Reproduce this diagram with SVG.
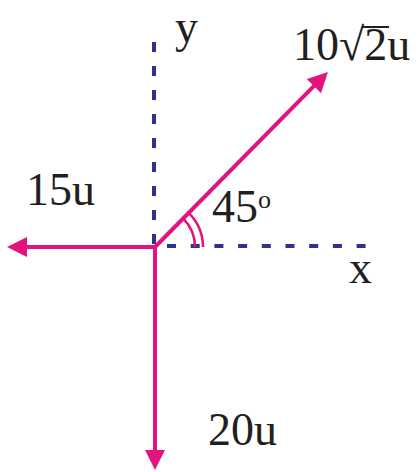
<svg xmlns="http://www.w3.org/2000/svg" width="419" height="472" viewBox="0 0 419 472">
<style>
.axis{stroke:#2e3192;stroke-width:4;fill:none}
.vec{stroke:#e2137f;stroke-width:4;fill:none}
.arc{stroke:#e2137f;stroke-width:2.5;fill:none}
.lbl{font-family:"Liberation Serif","DejaVu Serif",serif;font-size:46px;fill:#231f20}
</style>
<defs>
<marker id="ah" markerUnits="userSpaceOnUse" markerWidth="20" markerHeight="20" refX="2" refY="10" orient="auto">
<path d="M0,0 L20,10 L0,20 z" fill="#e2137f"/>
</marker>
</defs>
<rect width="419" height="472" fill="#ffffff"/>
<g id="axes">
<line id="y-axis" class="axis" x1="154" y1="42" x2="154" y2="247" stroke-dasharray="10 14"/>
<line id="x-axis" class="axis" x1="167" y1="246" x2="368" y2="246" stroke-dasharray="9 14.7"/>
</g>
<g id="connectors">
<line class="vec" x1="155" y1="247" x2="25" y2="247" marker-end="url(#ah)"/>
<line class="vec" x1="155" y1="245" x2="155" y2="452" marker-end="url(#ah)"/>
<line class="vec" x1="155" y1="247" x2="315.3" y2="84.7" marker-end="url(#ah)"/>
</g>
<g id="angle">
<path class="arc" d="M195,247 A40,40 0 0 0 183.3,218.7"/>
<path class="arc" d="M203,247 A48,48 0 0 0 188.9,213.1"/>
</g>
<g id="label-y"><text class="lbl" x="175" y="42">y</text></g>
<g id="label-x"><text class="lbl" x="349" y="283">x</text></g>
<g id="label-10root2u">
<text class="lbl" x="293" y="60">10√2u</text>
<line x1="362" y1="27" x2="389" y2="27" stroke="#231f20" stroke-width="2"/>
</g>
<g id="label-15u"><text class="lbl" x="26" y="205">15u</text></g>
<g id="label-45"><text class="lbl" x="212" y="222">45<tspan font-size="26" dy="-14">o</tspan></text></g>
<g id="label-20u"><text class="lbl" x="208" y="445">20u</text></g>
</svg>
